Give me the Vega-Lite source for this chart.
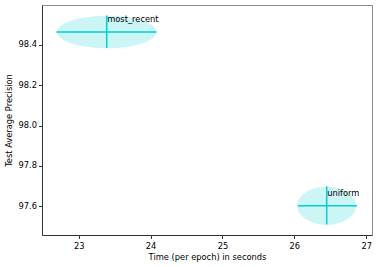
{
  "$schema": "https://vega.github.io/schema/vega-lite/v6.json",
  "autosize": "none",
  "width": 330,
  "height": 230,
  "padding": {"left": 42, "top": 5, "right": 9, "bottom": 32},
  "background": "white",
  "config": {
    "font": "DejaVu Sans",
    "view": {"stroke": "#8c8c8c", "strokeWidth": 1},
    "axis": {
      "grid": false,
      "domainColor": "#333333",
      "tickColor": "#333333",
      "tickSize": 3.5,
      "labelFont": "DejaVu Sans",
      "labelFontSize": 8.3,
      "labelColor": "#000000",
      "titleFont": "DejaVu Sans",
      "titleFontSize": 8.3,
      "titleFontWeight": "normal",
      "titleColor": "#000000"
    }
  },
  "data": {
    "values": [
      {"method": "most_recent", "time": 23.39, "time_lo": 22.69, "time_hi": 24.08, "ap": 98.463, "ap_lo": 98.384, "ap_hi": 98.545},
      {"method": "uniform", "time": 26.45, "time_lo": 26.05, "time_hi": 26.87, "ap": 97.603, "ap_lo": 97.51, "ap_hi": 97.699}
    ]
  },
  "encoding": {
    "x": {
      "field": "time", "type": "quantitative",
      "scale": {"domain": [22.49, 27.08], "nice": false, "zero": false},
      "axis": {"title": "Time (per epoch) in seconds", "values": [23, 24, 25, 26, 27], "labelPadding": 2.5, "titlePadding": 3}
    },
    "y": {
      "field": "ap", "type": "quantitative",
      "scale": {"domain": [97.458, 98.597], "nice": false, "zero": false},
      "axis": {"title": "Test Average Precision", "values": [97.6, 97.8, 98.0, 98.2, 98.4], "format": ".1f", "labelPadding": 2, "titlePadding": 5}
    }
  },
  "layer": [
    {
      "mark": {"type": "point", "filled": true, "fill": "#00CED1", "fillOpacity": 0.2, "strokeWidth": 0},
      "encoding": {
        "shape": {
          "field": "method", "type": "nominal",
          "scale": {"domain": ["most_recent", "uniform"], "range": ["M -1 0 A 1 0.325 0 1 0 1 0 A 1 0.325 0 1 0 -1 0 Z", "M -1 0 A 1 0.647 0 1 0 1 0 A 1 0.647 0 1 0 -1 0 Z"]},
          "legend": null
        },
        "size": {
          "field": "method", "type": "nominal",
          "scale": {"domain": ["most_recent", "uniform"], "range": [9980, 3481]},
          "legend": null
        }
      }
    },
    {
      "mark": {"type": "rule", "color": "#00CED1", "strokeWidth": 1.5},
      "encoding": {"x": {"field": "time_lo", "type": "quantitative"}, "x2": {"field": "time_hi"}}
    },
    {
      "mark": {"type": "rule", "color": "#00CED1", "strokeWidth": 1.5},
      "encoding": {"y": {"field": "ap_lo", "type": "quantitative"}, "y2": {"field": "ap_hi"}}
    },
    {
      "mark": {"type": "text", "align": "left", "baseline": "alphabetic", "dx": 0.5, "dy": -10, "fontSize": 8.3, "color": "#000000"},
      "encoding": {"text": {"field": "method", "type": "nominal"}}
    }
  ]
}
